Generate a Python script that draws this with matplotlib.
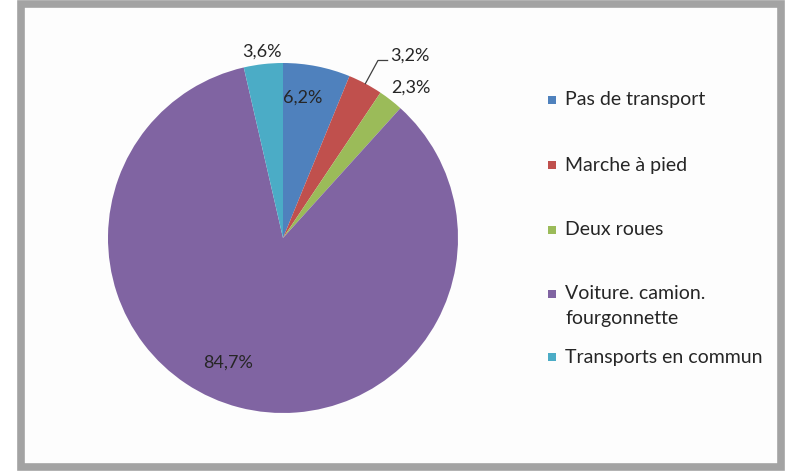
import matplotlib
matplotlib.use("Agg")
import matplotlib.pyplot as plt
from matplotlib.patches import Rectangle
import numpy as np

# data
categories = ["Pas de transport", "Marche à pied", "Deux roues",
              "Voiture. camion.\nfourgonnette", "Transports en commun"]
shares = [6.2, 3.2, 2.3, 84.7, 3.6]
pct_labels = ["6,2%", "3,2%", "2,3%", "84,7%", "3,6%"]
colors = ["#4F81BD", "#C0504D", "#9BBB59", "#8064A2", "#4BACC6"]

plt.rcParams['font.family'] = ['Lato', 'DejaVu Sans']

W, H = 791, 476
fig = plt.figure(figsize=(W / 100, H / 100), dpi=100)
fig.patch.set_facecolor("white")

# grey frame around the chart area
fig.patches.append(Rectangle((21 / W, 9 / H), 760 / W, 463 / H, transform=fig.transFigure,
                             facecolor="#FDFDFD", edgecolor="#A3A3A3", linewidth=5.5, zorder=-10))

# pie: centre (283, 238) px, radius 175 px
cx, cy, r = 283, 238, 175
ax = fig.add_axes([(cx - r) / W, (H - cy - r) / H, 2 * r / W, 2 * r / H])
ax.set_zorder(5)
ax.axis("off")

wedges, _ = ax.pie(shares, colors=colors, startangle=90, counterclock=False,
                   radius=1, wedgeprops=dict(linewidth=0))
ax.set_xlim(-1, 1)
ax.set_ylim(-1, 1)

# label placement (radius, angle shift in degrees) per slice
label_style = [(0.81, 3), (1.27, -6.6), (1.13, -2.5), (0.78, -9), (1.07, 0)]
for w, lab, (rad, dth) in zip(wedges, pct_labels, label_style):
    mid = np.deg2rad((w.theta1 + w.theta2) / 2 + dth)
    x, y = rad * np.cos(mid), rad * np.sin(mid)
    if lab == "3,2%":
        m0 = np.deg2rad((w.theta1 + w.theta2) / 2)
        ax.plot([np.cos(m0), x - 0.18, x - 0.125], [np.sin(m0), y - 0.03, y - 0.03],
                color="#404040", lw=0.9, clip_on=False)
    ax.text(x, y, lab, ha="center", va="center", fontsize=13, color="#262626", clip_on=False)

# legend drawn by hand
leg_y = [100, 165, 230, 294, 357]
for cat, col, yy in zip(categories, colors, leg_y):
    fig.patches.append(Rectangle((548 / W, (H - yy - 4) / H), 8 / W, 8 / H,
                                 transform=fig.transFigure, facecolor=col, edgecolor="none"))
    if "\n" in cat:
        fig.text(565 / W, (H - yy + 9) / H, cat, ha="left", va="top",
                 fontsize=14, color="#262626", linespacing=1.6)
    else:
        fig.text(565 / W, (H - yy) / H, cat, ha="left", va="center",
                 fontsize=14, color="#262626")

fig.savefig("out.png", dpi=100)
